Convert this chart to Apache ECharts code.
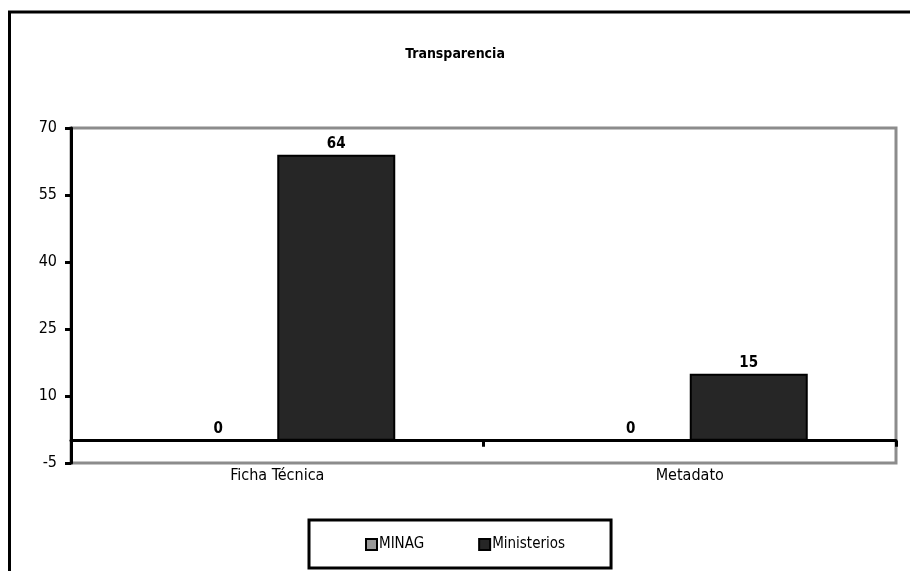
<!DOCTYPE html>
<html>
<head>
<meta charset="utf-8">
<script src="https://cdn.jsdelivr.net/npm/echarts@6/dist/echarts.min.js"></script>
<style>html,body{margin:0;padding:0;background:#fff}#c{width:910px;height:571px}</style>
</head>
<body>
<div id="c"></div>
<script>
var categories = ['Ficha Técnica', 'Metadato'];
var minagValues = [0, 0];
var ministeriosValues = [64, 15];
var seriesNames = ['MINAG', 'Ministerios'];
var chartTitle = 'Transparencia';

var FONT = "'Liberation Sans Narrow', 'Arial Narrow', 'DejaVu Sans Condensed', sans-serif";
var chart = echarts.init(document.getElementById('c'));
var lbl = {show: true, position: 'top', distance: 3, fontFamily: FONT, fontSize: 15, fontWeight: 'bold', color: '#000'};
chart.setOption({
  animation: false,
  backgroundColor: '#fff',
  title: {text: chartTitle, left: 'center', top: 42, textStyle: {fontFamily: FONT, fontSize: 14, fontWeight: 'bold', color: '#000'}},
  grid: {left: 71, right: 14, top: 128, bottom: 108, show: true, borderColor: '#8c8c8c', borderWidth: 3, backgroundColor: 'transparent'},
  legend: {
    left: 309, top: 520,
    padding: [17, 46, 16, 56],
    itemGap: 54, itemWidth: 11, itemHeight: 11,
    borderColor: '#000', borderWidth: 3,
    icon: 'rect',
    textStyle: {fontFamily: FONT, fontSize: 15, color: '#000', padding: [0, 0, 0, -3]},
    data: seriesNames
  },
  xAxis: {
    type: 'category', data: categories,
    axisLine: {onZero: true, lineStyle: {color: '#000', width: 3}},
    axisTick: {show: true, length: 6, lineStyle: {color: '#000', width: 3}},
    axisLabel: {margin: 5, fontFamily: FONT, fontSize: 16, color: '#000'},
    z: 5
  },
  yAxis: {
    type: 'value', min: -5, max: 70, interval: 15,
    axisLine: {show: true, lineStyle: {color: '#000', width: 3}},
    axisTick: {show: true, length: 6, lineStyle: {color: '#000', width: 3}},
    axisLabel: {margin: 14, fontFamily: FONT, fontSize: 16, color: '#000'},
    splitLine: {show: false},
    z: 5
  },
  series: [
    {name: seriesNames[0], type: 'bar', data: minagValues, barWidth: 118, barGap: '0%',
     itemStyle: {color: '#999999', borderColor: '#000', borderWidth: 2}, label: lbl},
    {name: seriesNames[1], type: 'bar', data: ministeriosValues, barWidth: 118, barGap: '0%',
     itemStyle: {color: '#262626', borderColor: '#000', borderWidth: 2}, label: lbl}
  ],
  graphic: [
    {type: 'line', shape: {x1: 8, y1: 12, x2: 910, y2: 12}, style: {stroke: '#000', lineWidth: 3}},
    {type: 'line', shape: {x1: 9.5, y1: 11, x2: 9.5, y2: 571}, style: {stroke: '#000', lineWidth: 3}}
  ]
});
</script>
</body>
</html>
